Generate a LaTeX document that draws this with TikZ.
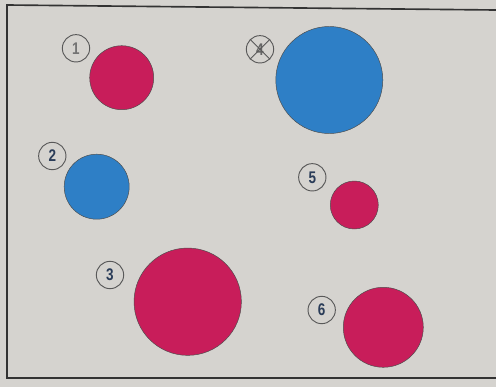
\documentclass[tikz,border=0pt]{standalone}
\usepackage{fontspec}
\usepackage{xcolor}
\usepackage{tikz}
\usetikzlibrary{positioning}

\newfontfamily\numfont[FakeStretch=0.8]{Liberation Sans}
\definecolor{paper}{HTML}{D5D3CF}
\definecolor{dotred}{HTML}{C81D5A}
\definecolor{dotblue}{HTML}{2E7FC6}
\definecolor{numink}{HTML}{2A3C58}

\begin{document}
\begin{tikzpicture}[
  x=0.03cm, y=-0.03cm,
  dot/.style={draw=black!70, line width=0.4pt, circle, inner sep=0pt},
  rdot/.style={dot, fill=dotred},
  bdot/.style={dot, fill=dotblue},
  num/.style={draw=black!65, line width=0.8pt, circle, inner sep=0pt, minimum size=0.82cm,
              font=\numfont\bfseries\Large, text=numink},
]
\fill[paper] (0,0) rectangle (496,387);
\useasboundingbox (0,0) rectangle (496,387);
\draw[line width=1.4pt, black!80] (496,10) -- (7,5) -- (7,378) -- (496,378);
% dots
\node[rdot, minimum size=1.92cm] at (121.7,77.7) (c1) {};
\node[bdot, minimum size=1.95cm] at (96.7,186.7) (c2) {};
\node[rdot, minimum size=3.22cm] at (187.7,301.7) (c3) {};
\node[bdot, minimum size=3.21cm] at (329.3,80) (c4) {};
\node[rdot, minimum size=1.44cm] at (354.3,205) (c5) {};
\node[rdot, minimum size=2.40cm] at (383.3,327.3) (c6) {};
% numbers
\node[num, text=black!55] at (76,48.3) (l1) {1};
\node[num] at (52.3,156) (l2) {2};
\node[num] at (110,275) (l3) {3};
\node[num, text=black!60] at (260,49.3) (l4) {4};
\node[num] at (312.3,177.3) (l5) {5};
\node[num] at (321.7,310) (l6) {6};
\draw[black!65, line width=0.8pt] (l4.north west) -- (l4.south east);
\draw[black!65, line width=0.8pt] (l4.north east) -- (l4.south west);
\end{tikzpicture}
\end{document}
